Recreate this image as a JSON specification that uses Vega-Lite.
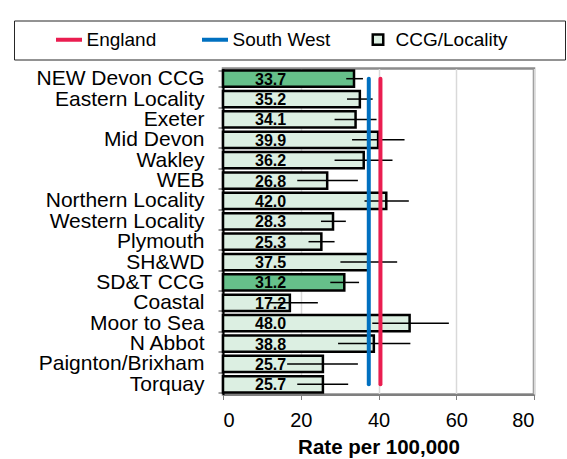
{
  "$schema": "https://vega.github.io/schema/vega-lite/v6.json",
  "width": 311,
  "height": 326,
  "autosize": "none",
  "padding": {"left": 223, "top": 68.5, "right": 33, "bottom": 64.5},
  "background": "white",
  "config": {
    "font": "Liberation Sans",
    "view": {"stroke": "#8C8C8C", "strokeWidth": 2.5}
  },
  "datasets": {
    "rates": [
      {"name": "NEW Devon CCG", "type": "CCG", "rate": 33.7, "lower": 31.7, "upper": 36.0},
      {"name": "Eastern Locality", "type": "Locality", "rate": 35.2, "lower": 31.9, "upper": 38.5},
      {"name": "Exeter", "type": "Locality", "rate": 34.1, "lower": 28.7, "upper": 39.5},
      {"name": "Mid Devon", "type": "Locality", "rate": 39.9, "lower": 33.2, "upper": 46.7},
      {"name": "Wakley", "type": "Locality", "rate": 36.2, "lower": 28.7, "upper": 43.6},
      {"name": "WEB", "type": "Locality", "rate": 26.8, "lower": 19.1, "upper": 34.7},
      {"name": "Northern Locality", "type": "Locality", "rate": 42.0, "lower": 36.4, "upper": 47.8},
      {"name": "Western Locality", "type": "Locality", "rate": 28.3, "lower": 25.2, "upper": 31.6},
      {"name": "Plymouth", "type": "Locality", "rate": 25.3, "lower": 22.0, "upper": 28.7},
      {"name": "SH&WD", "type": "Locality", "rate": 37.5, "lower": 30.2, "upper": 44.8},
      {"name": "SD&T CCG", "type": "CCG", "rate": 31.2, "lower": 27.6, "upper": 35.0},
      {"name": "Coastal", "type": "Locality", "rate": 17.2, "lower": 11.7, "upper": 24.4},
      {"name": "Moor to Sea", "type": "Locality", "rate": 48.0, "lower": 38.4, "upper": 58.1},
      {"name": "N Abbot", "type": "Locality", "rate": 38.8, "lower": 29.6, "upper": 48.2},
      {"name": "Paignton/Brixham", "type": "Locality", "rate": 25.7, "lower": 16.5, "upper": 34.7},
      {"name": "Torquay", "type": "Locality", "rate": 25.7, "lower": 19.1, "upper": 32.2}
    ],
    "refs": [
      {"series": "England", "rate": 40.5, "name": "NEW Devon CCG", "name2": "Torquay"},
      {"series": "South West", "rate": 37.5, "name": "NEW Devon CCG", "name2": "Torquay"}
    ]
  },
  "encoding": {
    "y": {
      "field": "name",
      "type": "nominal",
      "sort": null,
      "scale": {
        "domain": ["NEW Devon CCG", "Eastern Locality", "Exeter", "Mid Devon", "Wakley", "WEB", "Northern Locality", "Western Locality", "Plymouth", "SH&WD", "SD&T CCG", "Coastal", "Moor to Sea", "N Abbot", "Paignton/Brixham", "Torquay"],
        "paddingInner": 0.2,
        "paddingOuter": 0.1
      },
      "axis": {
        "title": null,
        "labelFont": "Liberation Sans",
        "labelFontSize": 21,
        "labelColor": "#000000",
        "labelPadding": 14,
        "tickBand": "extent",
        "tickSize": 5,
        "tickColor": "#404040",
        "domainColor": "#000000",
        "domainWidth": 2,
        "grid": false
      }
    }
  },
  "layer": [
    {
      "data": {"name": "rates"},
      "mark": {"type": "bar", "stroke": "#000000", "strokeWidth": 2.5},
      "encoding": {
        "x": {
          "field": "rate",
          "type": "quantitative",
          "scale": {"domain": [0, 80], "nice": false},
          "axis": {
            "values": [0, 20, 40, 60, 80],
            "title": "Rate per 100,000",
            "titleFontSize": 20.5,
            "titleFontWeight": "bold",
            "titleColor": "#000000",
            "titlePadding": 7,
            "labelFontSize": 20,
            "labelColor": "#000000",
            "labelPadding": 11,
            "grid": true,
            "gridColor": "#D9D9D9",
            "gridWidth": 1.5,
            "domainColor": "#7F7F7F",
            "domainWidth": 2,
            "tickColor": "#7F7F7F",
            "tickSize": 5
          }
        },
        "fill": {
          "field": "type",
          "type": "nominal",
          "scale": {"domain": ["CCG", "Locality"], "range": ["#66C08A", "#DCEFE2"]},
          "legend": null
        }
      }
    },
    {
      "data": {"name": "rates"},
      "mark": {"type": "rule", "color": "#000000", "strokeWidth": 1.5},
      "encoding": {
        "x": {"field": "lower", "type": "quantitative"},
        "x2": {"field": "upper"}
      }
    },
    {
      "data": {"name": "rates"},
      "mark": {"type": "text", "align": "left", "baseline": "middle", "dx": 32, "dy": 1, "fontSize": 16, "fontWeight": "bold", "color": "#000000"},
      "encoding": {
        "x": {"datum": 0, "type": "quantitative"},
        "text": {"field": "rate", "type": "quantitative", "format": ".1f"}
      }
    },
    {
      "data": {"name": "refs"},
      "mark": {"type": "rule", "strokeWidth": 4, "strokeCap": "round"},
      "encoding": {
        "x": {"field": "rate", "type": "quantitative"},
        "y2": {"field": "name2"},
        "color": {
          "field": "series",
          "type": "nominal",
          "scale": {"domain": ["England", "South West", "CCG/Locality"], "range": ["#EA1D50", "#0070C0", "#000000"]},
          "legend": {
            "title": "\u00a0",
            "titleOrient": "left",
            "titlePadding": 36,
            "titleFontSize": 11,
            "orient": "none",
            "legendX": -209,
            "legendY": -48,
            "direction": "horizontal",
            "strokeColor": "#262626",
            "padding": 9.5,
            "columnPadding": 37,
            "symbolType": "stroke",
            "symbolSize": 676,
            "symbolStrokeWidth": 4,
            "labelFont": "Liberation Sans",
            "labelFontSize": 19,
            "labelColor": "#000000",
            "labelOffset": 8,
            "labelLimit": 400,
            "labelExpr": "datum.label === 'CCG/Locality' ? datum.label + '\u00a0\u00a0\u00a0\u00a0\u00a0\u00a0\u00a0\u00a0\u00a0\u200b' : datum.label",
            "encoding": {
              "symbols": {
                "shape": {"value": {"expr": "datum.value === 'CCG/Locality' ? 'square' : 'stroke'"}},
                "size": {"value": {"expr": "datum.value === 'CCG/Locality' ? 110 : 676"}},
                "fill": {"value": {"expr": "datum.value === 'CCG/Locality' ? '#DCEFE2' : 'transparent'"}},
                "strokeWidth": {"value": {"expr": "datum.value === 'CCG/Locality' ? 2.5 : 4"}}
              }
            }
          }
        }
      }
    }
  ]
}
